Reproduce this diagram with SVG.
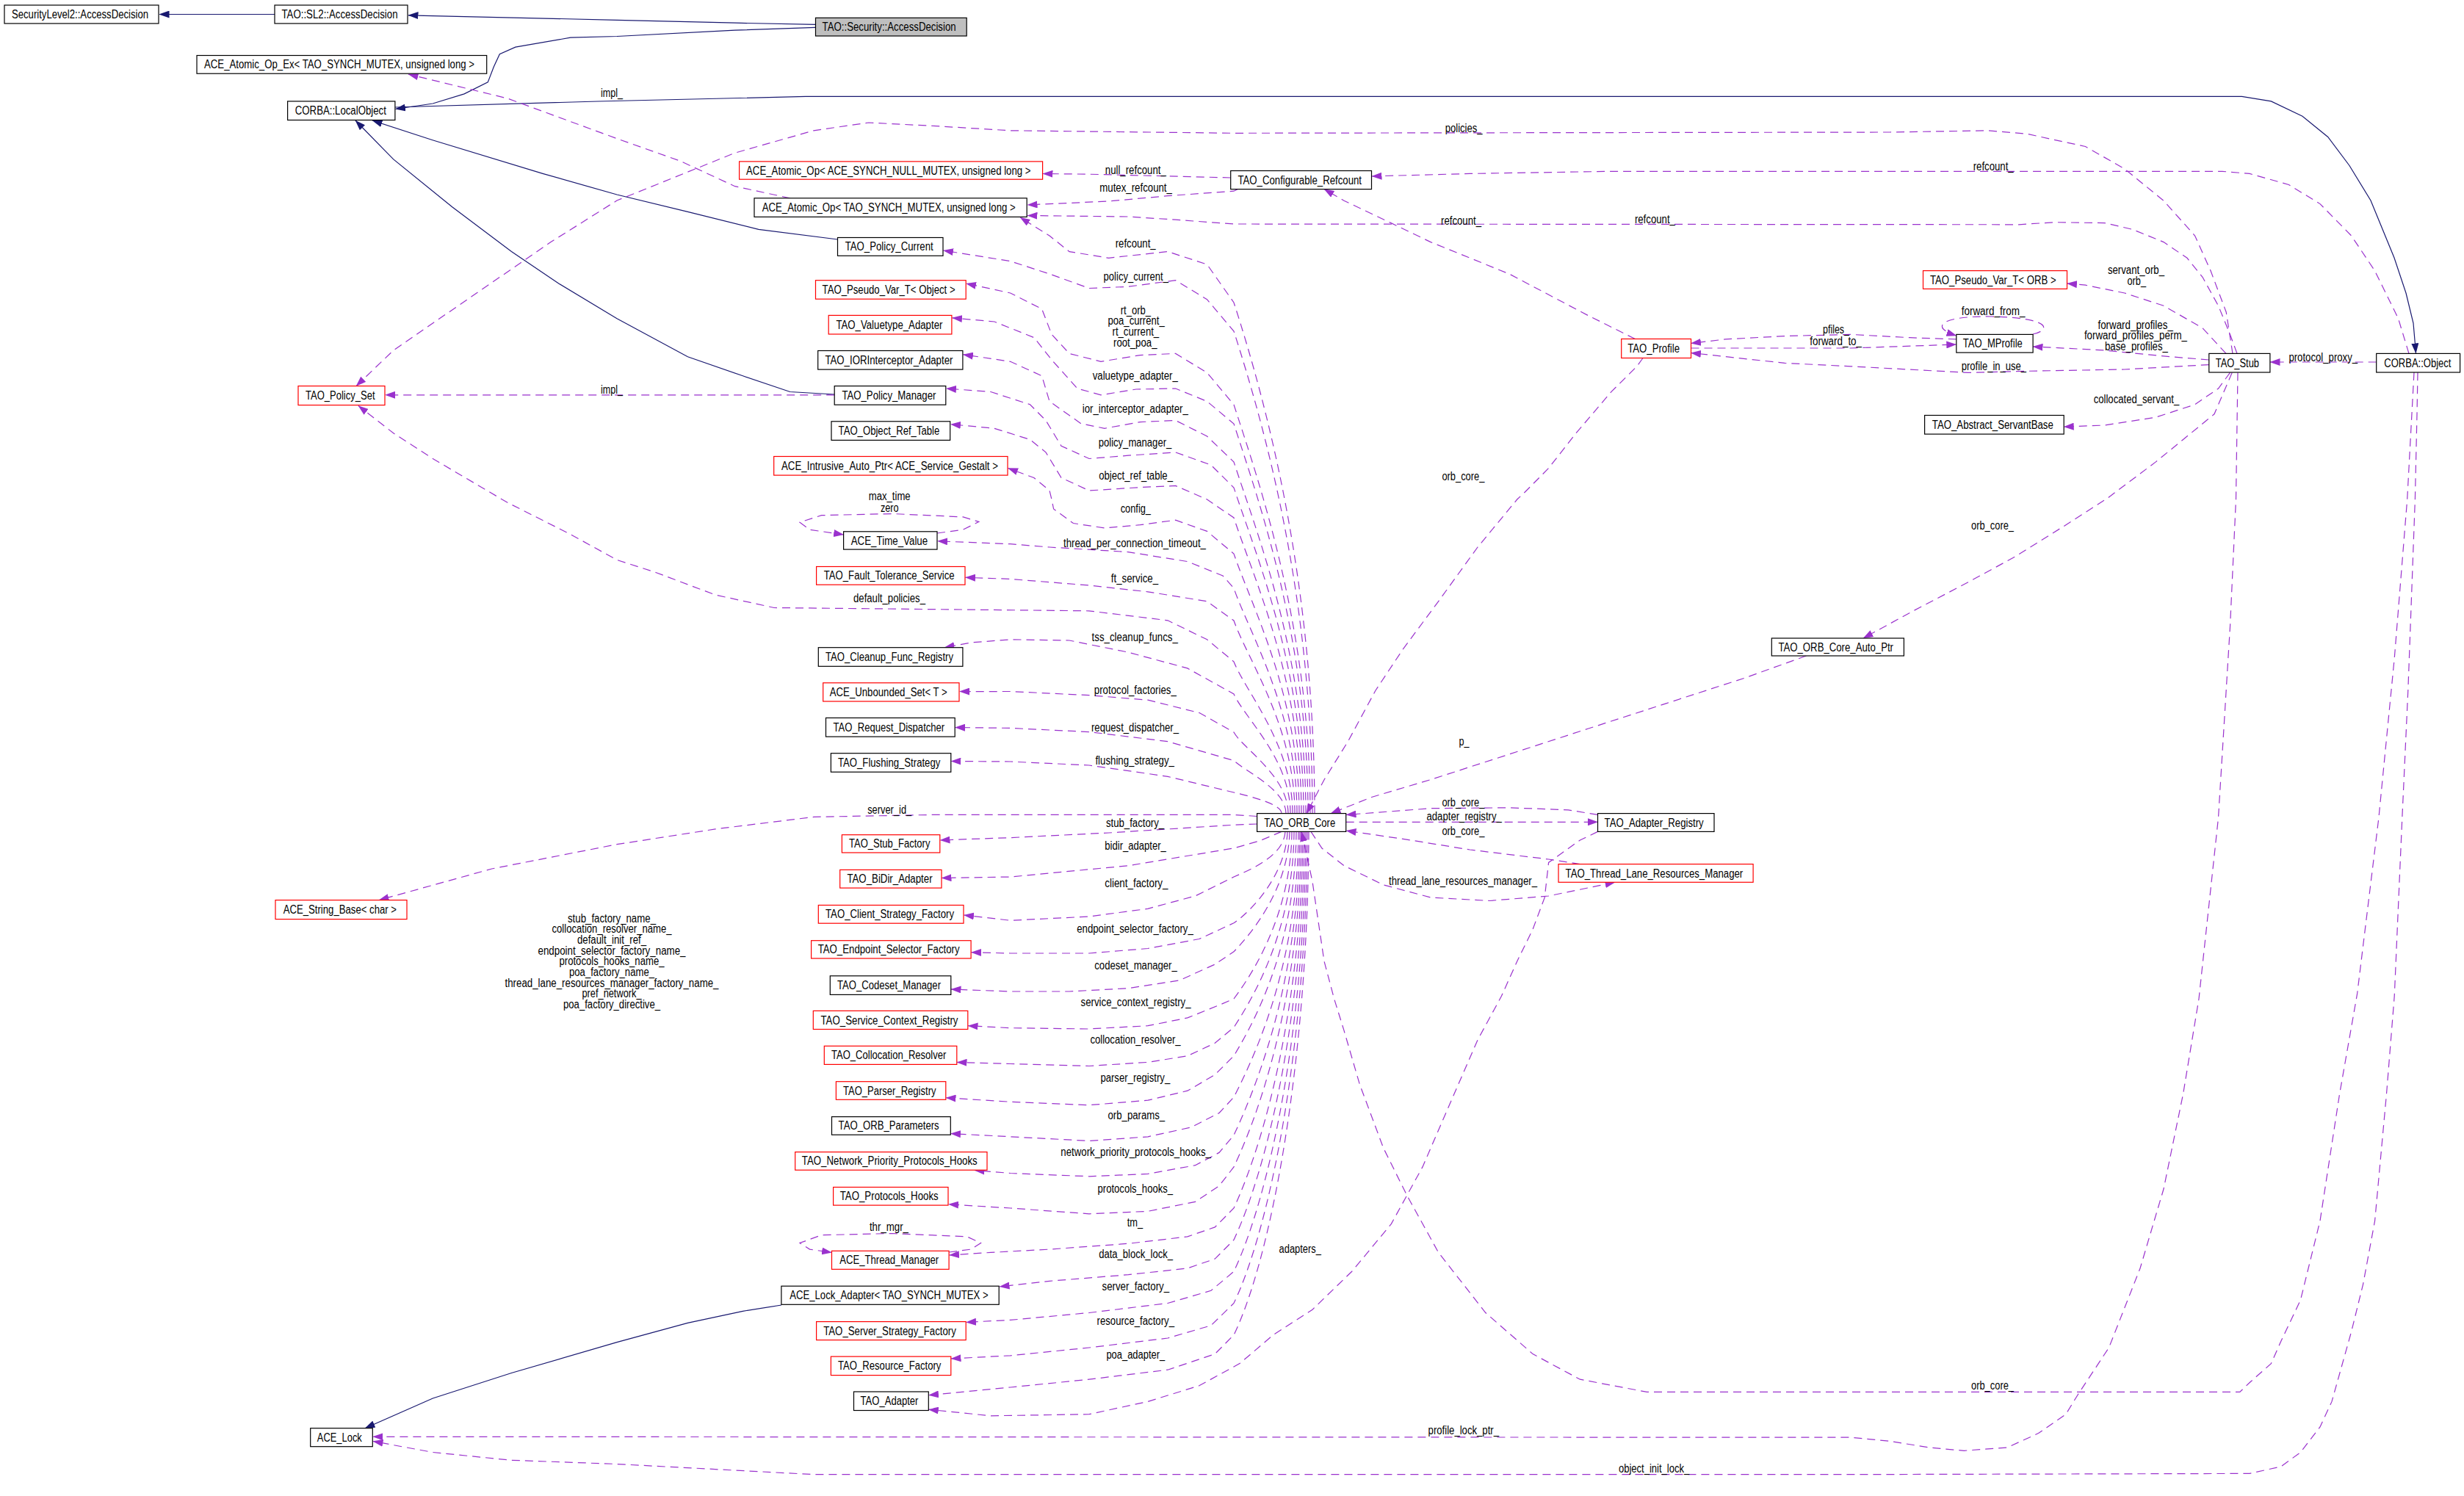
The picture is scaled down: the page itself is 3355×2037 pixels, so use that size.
<svg xmlns="http://www.w3.org/2000/svg" width="3355" height="2037" viewBox="0 0 3355 2037">
<style>
text{font-family:"Liberation Sans",Arial,sans-serif;font-size:16px;fill:#000}
.node rect{fill:#fff;stroke:#000;stroke-width:1.2}
.red rect{stroke:#ff0000}
.main rect{fill:#bfbfbf}
.e{fill:none;stroke:#9a32cd;stroke-width:1.2;stroke-dasharray:11,7;marker-end:url(#pa)}
.i{fill:none;stroke:#191970;stroke-width:1.2;marker-end:url(#ba)}
.lm{text-anchor:middle}
</style>
<defs>
<marker id="pa" markerUnits="userSpaceOnUse" markerWidth="14" markerHeight="10" viewBox="0 0 14 10" refX="13.5" refY="5" orient="auto"><path d="M0,0 L14,5 L0,10 z" fill="#9a32cd"/></marker>
<marker id="ba" markerUnits="userSpaceOnUse" markerWidth="14" markerHeight="10" viewBox="0 0 14 10" refX="13.5" refY="5" orient="auto"><path d="M0,0 L14,5 L0,10 z" fill="#191970"/></marker>
</defs>
<rect width="3355" height="2037" fill="#fff"/>
<g id="connectors">
<path class="i" d="M374,19.5 L217,19.5"/>
<path class="i" d="M1110.5,33.4 L1000.7,31.2 L840,27.3 L556,20.8"/>
<path class="i" d="M1110.5,37.3 L1000.7,41.2 L840,49.5 L776.8,51.2 L701.8,64.2 L680.3,73.7 L672.3,91.1 L664.3,111.9 L632.1,127.9 L589.3,141 L538.5,148.5"/>
<path class="i" d="M538,146 L814,138 L1097,131.4 L3052.5,131.4 L3092.4,137.9 L3135,158.3 L3169.7,186.5 L3199,225.5 L3228,273 L3244,312 L3260,351 L3276,399 L3286,440 L3289.5,481"/>
<path class="i" d="M1140.5,326 L1032.9,312.3 L936.4,288.4 L840,265 L739,236.4 L589,190.8 L507,164"/>
<path class="i" d="M1136.2,537 L1075.7,533.5 L1011.4,511.8 L936.4,485.7 L840,433.7 L760.7,386 L696.4,342.6 L616,282 L535.7,216.9 L484,164"/>
<path class="i" d="M1064,1777 L1011.4,1785.3 L936.4,1801.3 L840,1827.6 L696.4,1869.5 L589.3,1904 L497,1944.7"/>

<path class="e" d="M1075.7,269.8 L1000.7,253.7 L925.7,219 L840,188.7 L691,134 L556,101"/>
<path class="e" d="M1136.2,537.8 L524.5,537.8"/>
<path class="e" d="M1675.7,242 L1536,238.5 L1482.8,237.2 L1420,236.5"/>
<path class="e" d="M1685,257.6 L1680,260.2 L1590,266.7 L1509.6,274 L1399,279"/>
<path class="e" d="M3280,481.4 L3265.5,433.7 L3233.5,368.6 L3201.6,321 L3159,277.6 L3116.4,251.5 L3063,236.4 L3025.9,233.3 L2194,233.3 L2001.4,236.4 L1868,240"/>
<path class="e" d="M3046,481.4 L3036.5,455.4 L3020.5,416.3 L2999,377.3 L2978,351.3 L2946,329.6 L2903.4,312.3 L2866,303.6 L2797,302.7 L2749,305.8 L1680,305 L1600.7,299.2 L1536.4,295 L1399,293.5"/>
<path class="e" d="M3040,481.4 L3031.2,425 L3010,368.6 L2988.6,321 L2946,273.2 L2892.8,229.9 L2839.5,199.5 L2759.6,182.2 L2706.4,177.8 L2573.2,180 L1680,181.3 L1375.7,177.8 L1268.6,171.3 L1182.8,167 L1107.8,177.8 L1000.7,208.2 L893.6,251.5 L840,273 L750,329.6 L642.8,403.3 L535.7,477 L485,525.6"/>
<path class="e" d="M2226.4,461.5 L2162,429.4 L2055,373 L1948,329.6 L1894,303.6 L1830,273.2 L1803,257.6"/>
<path class="e" d="M2237,487.5 L2229,498.7 L2194,533.4 L2146,589.8 L2108.6,637.5 L2076.4,670 L2065.7,680 L2012,745 L1958.6,818.8 L1910.4,883.8 L1872.9,940.2 L1835.4,1009.6 L1803,1061.7 L1779,1107.6"/>
<path class="e" d="M3007.8,496.6 L2892.8,503 L2759.6,505.3 L2679.8,507.4 L2520,498.8 L2430,494.4 L2302.5,480.5"/>
<path class="e" d="M2663.8,461.9 L2600,459.7 L2520,455.4 L2430,457.6 L2349.6,461.9 L2302.5,467.5"/>
<path class="e" d="M2302.5,474 L2520,474 L2663.8,469"/>
<path class="e" d="M2768,455 C2792,450 2795,433 2712,431 C2640,430 2628,446 2664,457"/>
<path class="e" d="M3007.8,490 L2946,484.9 L2866,477 L2802,473.6 L2768,472"/>
<path class="e" d="M3031,481.4 L2999,446.7 L2946,416.3 L2892.8,399 L2839.5,388.2 L2814.5,386"/>
<path class="e" d="M3036.5,507.4 L3020.5,529 L2988.6,550.8 L2935.4,568.2 L2866,579 L2810.2,581.2"/>
<path class="e" d="M3235.7,493 L3091,493"/>
<path class="e" d="M3039.2,507.4 L3015,563.8 L2972.6,598.5 L2935.4,628.9 L2870,678 L2813,714.7 L2743.7,758 L2679.8,792.8 L2605.2,831.8 L2537,869"/>
<path class="e" d="M2459.4,893 L2376.4,922.9 L2269.3,957.6 L2162,992.3 L2055,1027 L1947.9,1061.6 L1867.5,1085.5 L1812,1107.6"/>
<path class="e" d="M1832.7,1119.3 L2175.5,1119.3"/>
<path class="e" d="M2175.5,1109.4 L2135.4,1102.8 L2055,1099.8 L1947.9,1100.7 L1833,1109.5"/>
<path class="e" d="M2151.4,1176.6 L2108.6,1170 L2001.4,1157 L1921,1144 L1833,1131"/>
<path class="e" d="M1785,1132.4 L1800,1155 L1830,1178.7 L1883.6,1204.8 L1947.9,1222 L2028.2,1226.5 L2108.6,1220 L2199,1201.3"/>
<path class="e" d="M2175.5,1132.4 L2151.4,1144 L2108.6,1174.4 L2103.2,1222.1 L2087,1265.5 L2065.7,1308.9 L2044.3,1356.6 L2012,1416 L1980,1489.5 L1937,1588.9 L1894.3,1666.6 L1840.7,1731.3 L1787,1783.2 L1733.6,1817.7 L1688,1856.6 L1680,1861 L1632.8,1886.8 L1563,1908.4 L1483,1925.7 L1349,1927.8 L1264.3,1919.2"/>
<path class="e" d="M3287,507 L3277.7,680 L3260.2,896.8 L3238.9,1113.7 L3209.6,1353.2 L3185.6,1489.5 L3159,1662.3 L3132.4,1770.2 L3105.8,1826.3 L3092.4,1856.6 L3063.2,1882.5 L3049.8,1895.4 L2242.5,1895.4 L2151.4,1878.2 L2087,1843.6 L2022.8,1787.5 L1958.6,1705.4 L1915.7,1627.7 L1883.6,1563 L1851.4,1476.6 L1830,1403.2 L1816.6,1360 L1803,1308.9 L1787,1200.4 L1775,1145 L1772,1132.4"/>
<path class="e" d="M3292,507.3 L3291,563.8 L3288.4,680 L3278.8,940.2 L3270.8,1113.7 L3260.2,1356.6 L3249.5,1489.5 L3233.6,1662.3 L3217.6,1748.6 L3201.6,1813.4 L3175,1908.4 L3159,1942.9 L3132.4,1977.5 L3105.8,1996.9 L3063.2,2006.4 L2520,2007.7 L1107.8,2007.7 L840,1993.5 L696.4,1988.3 L589.3,1977.5 L508,1962.5"/>
<path class="e" d="M3047,507.4 L3044.5,680 L3036.5,853.5 L3020.5,1113.7 L2994,1360 L2972.6,1489.5 L2946,1619 L2914,1727 L2871.5,1835 L2828.8,1899.7 L2812.9,1925.7 L2775.6,1951.6 L2733,1971 L2674.4,1975.3 L2626.5,1971 L2573.2,1962.3 L2520,1957.2 L508,1956.3"/>
<path class="e" d="M1711.6,1111.5 L1680,1109.4 L1268.6,1109.4 L1108,1112.4 L974,1128.9 L840,1149.7 L669.6,1183 L516,1225.6"/>
<path class="e" d="M1711.6,1122 L1680,1123.2 L1509.6,1134 L1375.7,1140.6 L1280,1144"/>
<path class="e" d="M1745,1132.4 L1715,1145 L1680,1154.9 L1536.4,1178.7 L1375.7,1194 L1282,1195.5"/>

<path class="e" d="M1790,1107.6 C1790,794 1725,551 1680,412 L1643.5,360 L1590,342.6 L1509.6,351.3 L1456,342.6 L1429,321 L1389,296"/>
<path class="e" d="M1787,1107.6 C1787,812 1722,582 1680,451 L1643.5,407.7 L1600.7,381.7 L1536.4,390.3 L1483,392.5 L1429,373 L1375.7,355.6 L1284.5,341"/>
<path class="e" d="M1784,1107.6 C1784,857 1716,662 1680,551 L1643.5,507.4 L1600.7,481.4 L1552.5,483.6 L1499,492.3 L1456,481.4 L1432,455.4 L1418.6,420.7 L1375.7,399 L1315.5,386"/>
<path class="e" d="M1781,1107.6 C1781,869 1714,683 1680,577 L1643.5,546.5 L1600.7,529 L1547,530 L1499,537.8 L1467,529 L1432,490 L1408,459.7 L1354,438 L1296.5,432.8"/>
<path class="e" d="M1778,1107.6 C1778,892 1711,725 1680,629 L1643.5,594 L1600.7,572.5 L1552.5,574.6 L1504,583.3 L1472,576.8 L1429,546.5 L1418.6,511.8 L1375.7,492.3 L1311.5,482.7"/>
<path class="e" d="M1775,1107.6 C1775,908 1709,753 1680,664 L1649,633.2 L1600.7,615.9 L1536.4,620.2 L1483,624.5 L1445,607.2 L1424,572.5 L1402.5,550.8 L1349,533.5 L1288.5,529"/>
<path class="e" d="M1772,1107.6 C1772,926 1706,785 1680,705 L1643.5,680 L1600.7,661.4 L1552.5,663.6 L1483,668 L1445,650.5 L1424,615.9 L1402.5,598.5 L1354,583.3 L1294.5,577.7"/>
<path class="e" d="M1769,1107.6 C1769,948 1704,825 1680,754 L1643.5,723.4 L1600.7,708.2 L1552.5,714.7 L1504.3,719 L1461.4,712.5 L1434.6,693 L1432,680 L1429,667.9 L1407.8,650.5 L1372.5,637.5"/>
<path class="e" d="M1766,1107.6 C1766,969 1701,862 1680,801 L1665,784 L1617,764.6 L1536,751.6 L1429,745 L1375.7,740.7 L1276.5,736.8"/>
<path class="e" d="M1763,1107.6 C1763,989 1698,897 1680,845 L1643.5,818.8 L1563,805.8 L1482.8,797 L1375.7,788.4 L1314.5,786.3"/>
<path class="e" d="M1760,1107.6 C1760,1014 1696,942 1680,901 L1643.5,870.8 L1590,844.8 L1482.8,831.8 L1268.6,829.6 L1054,827.5 L974,810 L893.6,779.7 L840,762.4 L777,727.7 L691,684.3 L589.3,624.5 L535.7,589.8 L488,552.5"/>
<path class="e" d="M1757,1107.6 C1757,1033 1694,977 1680,945 L1616.8,909.9 L1536.4,888.2 L1456,872 L1375.7,870.8 L1322,875 L1286,881.7"/>
<path class="e" d="M1754,1107.6 C1754,1057 1692,1019 1680,997 L1633,970.6 L1563,953.2 L1483,946.7 L1375.7,941.5 L1306.5,941.6"/>
<path class="e" d="M1751,1107.6 C1751,1075 1695,1050 1680,1035.6 L1590,1009.6 L1483,996.6 L1375.7,991.4 L1300.5,990.5"/>
<path class="e" d="M1745,1107.6 C1745,1095 1705,1085 1680,1079 L1590,1057.3 L1483,1042 L1375.7,1037 L1295,1036.5"/>

<path class="e" d="M1750,1132.4 C1748,1165 1705,1183 1680,1194 L1627.5,1220 L1563,1237.3 L1483,1248 L1375.7,1253.3 L1312.5,1246"/>
<path class="e" d="M1753,1132.4 C1751,1190 1705,1240 1680,1256.8 L1633,1278.5 L1563,1291.5 L1483,1298 L1375.7,1298 L1322.5,1296.7"/>
<path class="e" d="M1756,1132.4 C1754,1210 1705,1270 1680,1295.8 L1654,1313.2 L1606,1334.9 L1536.4,1345.7 L1456,1350 L1375.7,1350 L1295,1347"/>
<path class="e" d="M1759,1132.4 C1758,1240 1710,1320 1680,1360 L1660,1368.6 L1617,1385.9 L1563,1396.7 L1483,1401 L1375.7,1399.7 L1318,1396.7"/>
<path class="e" d="M1762,1132.4 C1761,1260 1712,1350 1680,1398.9 L1654,1420.5 L1617,1437.7 L1563,1446.4 L1483,1451.5 L1375.7,1448.5 L1303,1446.4"/>
<path class="e" d="M1765,1132.4 C1764,1280 1715,1380 1680,1437.7 L1654,1463.6 L1617,1485.2 L1563,1498.2 L1483,1504.7 L1375.7,1500.3 L1288,1494.7"/>
<path class="e" d="M1768,1132.4 C1767,1300 1718,1420 1680,1493.9 L1660,1515.5 L1622,1534.9 L1563,1547.8 L1483,1553.4 L1375.7,1547.8 L1294.5,1543.5"/>
<path class="e" d="M1770,1132.4 C1769,1320 1720,1460 1680,1545.7 L1660,1569.4 L1627.5,1586.7 L1563,1598.4 L1483,1601.8 L1375.7,1597.5 L1327,1593.5"/>
<path class="e" d="M1772,1132.4 C1771,1340 1722,1500 1680,1588.9 L1660,1614.8 L1627.5,1636.4 L1563,1649.3 L1483,1652.8 L1375.7,1645 L1291.5,1639.8"/>
<path class="e" d="M1774,1132.4 C1773,1360 1724,1550 1680,1645 L1654.3,1670.9 L1616.8,1683.9 L1536.4,1693.3 L1429.2,1701.1 L1348.9,1705.4 L1292.5,1709"/>
<path class="e" d="M1776,1132.4 C1775,1380 1726,1590 1680,1688.2 L1654.3,1714.1 L1616.8,1727 L1536.4,1735.7 L1429.2,1744.3 L1361,1752"/>
<path class="e" d="M1778,1132.4 C1777,1400 1728,1630 1680,1731.3 L1649,1757.3 L1590,1774.5 L1483,1787.5 L1375.7,1797.4 L1315.5,1800.4"/>
<path class="e" d="M1780,1132.4 C1779,1420 1730,1670 1680,1774.5 L1649,1804.8 L1590,1822 L1483,1835 L1375.7,1845.8 L1295,1850"/>
<path class="e" d="M1782,1132.4 C1781,1440 1732,1710 1680,1817.7 L1654.3,1843.6 L1590,1865.2 L1483,1878.2 L1375.7,1889 L1264.5,1899.7"/>

<path class="e" d="M1276,726 L1311.4,721.2 L1332.8,710.4 L1311.4,703.9 L1215,699.5 L1118.6,701.7 L1089,711.2 L1102.5,721.2 L1148.6,728"/>
<path class="e" d="M1292.1,1705 L1322,1701.1 L1335.5,1692.5 L1316.8,1683.9 L1215,1679.5 L1118.6,1681.7 L1089,1692.5 L1102.5,1701.1 L1132.5,1705.4"/>

<g id="edge-labels">
<text x="818" y="132" textLength="30" lengthAdjust="spacingAndGlyphs">impl_</text>
<text x="818" y="536" textLength="30" lengthAdjust="spacingAndGlyphs">impl_</text>
<text x="1504.8" y="237" textLength="83" lengthAdjust="spacingAndGlyphs">null_refcount_</text>
<text x="1497.3" y="261" textLength="98.6" lengthAdjust="spacingAndGlyphs">mutex_refcount_</text>
<text x="1518.7" y="337" textLength="55" lengthAdjust="spacingAndGlyphs">refcount_</text>
<text x="1502.6" y="382" textLength="88.4" lengthAdjust="spacingAndGlyphs">policy_current_</text>
<text x="1525.7" y="428" textLength="41.3" lengthAdjust="spacingAndGlyphs">rt_orb_</text>
<text x="1508.5" y="442" textLength="77.2" lengthAdjust="spacingAndGlyphs">poa_current_</text>
<text x="1514.5" y="457" textLength="63.7" lengthAdjust="spacingAndGlyphs">rt_current_</text>
<text x="1516" y="472" textLength="59.5" lengthAdjust="spacingAndGlyphs">root_poa_</text>
<text x="1487.7" y="517" textLength="116.2" lengthAdjust="spacingAndGlyphs">valuetype_adapter_</text>
<text x="1473.7" y="562" textLength="144.1" lengthAdjust="spacingAndGlyphs">ior_interceptor_adapter_</text>
<text x="1495.7" y="608" textLength="99.6" lengthAdjust="spacingAndGlyphs">policy_manager_</text>
<text x="1496.2" y="653" textLength="100.8" lengthAdjust="spacingAndGlyphs">object_ref_table_</text>
<text x="1182.8" y="681" textLength="56.8" lengthAdjust="spacingAndGlyphs">max_time</text>
<text x="1198.9" y="697" textLength="24.7" lengthAdjust="spacingAndGlyphs">zero</text>
<text x="1525.7" y="698" textLength="41.3" lengthAdjust="spacingAndGlyphs">config_</text>
<text x="1448" y="745" textLength="194" lengthAdjust="spacingAndGlyphs">thread_per_connection_timeout_</text>
<text x="1512.8" y="793" textLength="64.3" lengthAdjust="spacingAndGlyphs">ft_service_</text>
<text x="1162" y="820" textLength="98" lengthAdjust="spacingAndGlyphs">default_policies_</text>
<text x="1486.6" y="873" textLength="117.3" lengthAdjust="spacingAndGlyphs">tss_cleanup_funcs_</text>
<text x="1489.8" y="945" textLength="112" lengthAdjust="spacingAndGlyphs">protocol_factories_</text>
<text x="1486" y="996" textLength="119" lengthAdjust="spacingAndGlyphs">request_dispatcher_</text>
<text x="1491.4" y="1041" textLength="107.6" lengthAdjust="spacingAndGlyphs">flushing_strategy_</text>
<text x="1181.2" y="1108" textLength="60" lengthAdjust="spacingAndGlyphs">server_id_</text>
<text x="1505.9" y="1126" textLength="79.3" lengthAdjust="spacingAndGlyphs">stub_factory_</text>
<text x="1504.3" y="1157" textLength="83.5" lengthAdjust="spacingAndGlyphs">bidir_adapter_</text>
<text x="1504.3" y="1208" textLength="86.2" lengthAdjust="spacingAndGlyphs">client_factory_</text>
<text x="1466.2" y="1270" textLength="158.6" lengthAdjust="spacingAndGlyphs">endpoint_selector_factory_</text>
<text x="1490.3" y="1320" textLength="112.5" lengthAdjust="spacingAndGlyphs">codeset_manager_</text>
<text x="1471.6" y="1370" textLength="150" lengthAdjust="spacingAndGlyphs">service_context_registry_</text>
<text x="1484.4" y="1421" textLength="123.2" lengthAdjust="spacingAndGlyphs">collocation_resolver_</text>
<text x="1498.4" y="1473" textLength="94.8" lengthAdjust="spacingAndGlyphs">parser_registry_</text>
<text x="1508.5" y="1524" textLength="77.7" lengthAdjust="spacingAndGlyphs">orb_params_</text>
<text x="1444.3" y="1574" textLength="204.6" lengthAdjust="spacingAndGlyphs">network_priority_protocols_hooks_</text>
<text x="1494.6" y="1624" textLength="102.4" lengthAdjust="spacingAndGlyphs">protocols_hooks_</text>
<text x="1183.9" y="1676" textLength="53.1" lengthAdjust="spacingAndGlyphs">thr_mgr_</text>
<text x="1534.8" y="1670" textLength="21.4" lengthAdjust="spacingAndGlyphs">tm_</text>
<text x="1496.2" y="1713" textLength="100.8" lengthAdjust="spacingAndGlyphs">data_block_lock_</text>
<text x="1500.5" y="1757" textLength="91.6" lengthAdjust="spacingAndGlyphs">server_factory_</text>
<text x="1493.5" y="1804" textLength="105.5" lengthAdjust="spacingAndGlyphs">resource_factory_</text>
<text x="1506.4" y="1850" textLength="79.8" lengthAdjust="spacingAndGlyphs">poa_adapter_</text>
<text class="lm" x="833" y="1256" textLength="120" lengthAdjust="spacingAndGlyphs">stub_factory_name_</text>
<text class="lm" x="833" y="1270" textLength="163" lengthAdjust="spacingAndGlyphs">collocation_resolver_name_</text>
<text class="lm" x="833" y="1285" textLength="94" lengthAdjust="spacingAndGlyphs">default_init_ref_</text>
<text class="lm" x="833" y="1300" textLength="201" lengthAdjust="spacingAndGlyphs">endpoint_selector_factory_name_</text>
<text class="lm" x="833" y="1314" textLength="143" lengthAdjust="spacingAndGlyphs">protocols_hooks_name_</text>
<text class="lm" x="833" y="1329" textLength="116" lengthAdjust="spacingAndGlyphs">poa_factory_name_</text>
<text class="lm" x="833" y="1344" textLength="291" lengthAdjust="spacingAndGlyphs">thread_lane_resources_manager_factory_name_</text>
<text class="lm" x="833" y="1358" textLength="81" lengthAdjust="spacingAndGlyphs">pref_network_</text>
<text class="lm" x="833" y="1373" textLength="132" lengthAdjust="spacingAndGlyphs">poa_factory_directive_</text>
<text x="1986.4" y="1015" textLength="14" lengthAdjust="spacingAndGlyphs">p_</text>
<text x="1963.4" y="1098" textLength="58" lengthAdjust="spacingAndGlyphs">orb_core_</text>
<text x="1942.5" y="1117" textLength="102.3" lengthAdjust="spacingAndGlyphs">adapter_registry_</text>
<text x="1963.4" y="1137" textLength="58" lengthAdjust="spacingAndGlyphs">orb_core_</text>
<text x="1891" y="1205" textLength="202" lengthAdjust="spacingAndGlyphs">thread_lane_resources_manager_</text>
<text x="1967.7" y="180" textLength="50.9" lengthAdjust="spacingAndGlyphs">policies_</text>
<text x="1962" y="306" textLength="55" lengthAdjust="spacingAndGlyphs">refcount_</text>
<text x="2225.9" y="304" textLength="55" lengthAdjust="spacingAndGlyphs">refcount_</text>
<text x="1963.4" y="654" textLength="58" lengthAdjust="spacingAndGlyphs">orb_core_</text>
<text x="2482" y="454" textLength="36" lengthAdjust="spacingAndGlyphs">pfiles_</text>
<text x="2464.3" y="470" textLength="70.7" lengthAdjust="spacingAndGlyphs">forward_to_</text>
<text x="2686.7" y="232" textLength="55" lengthAdjust="spacingAndGlyphs">refcount_</text>
<text x="2869.9" y="373" textLength="77.1" lengthAdjust="spacingAndGlyphs">servant_orb_</text>
<text x="2896.5" y="388" textLength="25.5" lengthAdjust="spacingAndGlyphs">orb_</text>
<text x="2670.7" y="429" textLength="86.8" lengthAdjust="spacingAndGlyphs">forward_from_</text>
<text x="2856.5" y="448" textLength="102.3" lengthAdjust="spacingAndGlyphs">forward_profiles_</text>
<text x="2837.9" y="462" textLength="140" lengthAdjust="spacingAndGlyphs">forward_profiles_perm_</text>
<text x="2866" y="477" textLength="85.9" lengthAdjust="spacingAndGlyphs">base_profiles_</text>
<text x="2670.7" y="504" textLength="88.4" lengthAdjust="spacingAndGlyphs">profile_in_use_</text>
<text x="3116.4" y="492" textLength="93.7" lengthAdjust="spacingAndGlyphs">protocol_proxy_</text>
<text x="2850.7" y="549" textLength="116.6" lengthAdjust="spacingAndGlyphs">collocated_servant_</text>
<text x="2684" y="721" textLength="58" lengthAdjust="spacingAndGlyphs">orb_core_</text>
<text x="1741.6" y="1706" textLength="57.3" lengthAdjust="spacingAndGlyphs">adapters_</text>
<text x="1944.6" y="1953" textLength="96.4" lengthAdjust="spacingAndGlyphs">profile_lock_ptr_</text>
<text x="2203.9" y="2005" textLength="96.4" lengthAdjust="spacingAndGlyphs">object_init_lock_</text>
<text x="2684" y="1892" textLength="58" lengthAdjust="spacingAndGlyphs">orb_core_</text>
</g>
</g>

<g id="nodes">
<g id="n_sl2_ad" class="node"><rect x="6" y="7" width="210" height="25"/><text x="16" y="25" textLength="186" lengthAdjust="spacingAndGlyphs">SecurityLevel2::AccessDecision</text></g>
<g id="n_tao_sl2_ad" class="node"><rect x="374" y="7" width="181" height="25"/><text x="383.5" y="25" textLength="158" lengthAdjust="spacingAndGlyphs">TAO::SL2::AccessDecision</text></g>
<g id="n_tao_sec_ad" class="node main"><rect x="1110.5" y="24.3" width="205.7" height="24.7"/><text x="1119.6" y="42.2" textLength="182" lengthAdjust="spacingAndGlyphs">TAO::Security::AccessDecision</text></g>
<g id="n_atomic_op_ex" class="node"><rect x="268" y="75.5" width="394.7" height="24.7"/><text x="278" y="93.4" textLength="368" lengthAdjust="spacingAndGlyphs">ACE_Atomic_Op_Ex&lt; TAO_SYNCH_MUTEX, unsigned long &gt;</text></g>
<g id="n_local_object" class="node"><rect x="391.6" y="137.9" width="146.3" height="25.6"/><text x="401.8" y="156.2" textLength="124" lengthAdjust="spacingAndGlyphs">CORBA::LocalObject</text></g>
<g id="n_policy_set" class="node red"><rect x="406" y="525.6" width="118" height="26"/><text x="416" y="544.1" textLength="94.5" lengthAdjust="spacingAndGlyphs">TAO_Policy_Set</text></g>
<g id="n_atomic_null" class="node red"><rect x="1006.6" y="219.9" width="413" height="24.3"/><text x="1016" y="237.6" textLength="387.6" lengthAdjust="spacingAndGlyphs">ACE_Atomic_Op&lt; ACE_SYNCH_NULL_MUTEX, unsigned long &gt;</text></g>
<g id="n_atomic_mutex" class="node"><rect x="1027" y="269.8" width="371.2" height="25.6"/><text x="1037.7" y="288.1" textLength="345" lengthAdjust="spacingAndGlyphs">ACE_Atomic_Op&lt; TAO_SYNCH_MUTEX, unsigned long &gt;</text></g>
<g id="n_policy_current" class="node"><rect x="1140.5" y="323.5" width="143.5" height="24.8"/><text x="1150.7" y="341.4" textLength="120" lengthAdjust="spacingAndGlyphs">TAO_Policy_Current</text></g>
<g id="n_pseudo_obj" class="node red"><rect x="1110.5" y="381.7" width="204.7" height="25.5"/><text x="1119.6" y="400" textLength="181" lengthAdjust="spacingAndGlyphs">TAO_Pseudo_Var_T&lt; Object &gt;</text></g>
<g id="n_valuetype" class="node red"><rect x="1128.2" y="429.4" width="167.7" height="25.6"/><text x="1138.4" y="447.7" textLength="145" lengthAdjust="spacingAndGlyphs">TAO_Valuetype_Adapter</text></g>
<g id="n_ior" class="node"><rect x="1113.7" y="477.5" width="197.2" height="25.6"/><text x="1123.4" y="495.8" textLength="174" lengthAdjust="spacingAndGlyphs">TAO_IORInterceptor_Adapter</text></g>
<g id="n_policy_manager" class="node"><rect x="1136.2" y="525.6" width="151.6" height="25.6"/><text x="1146.4" y="543.9" textLength="128" lengthAdjust="spacingAndGlyphs">TAO_Policy_Manager</text></g>
<g id="n_obj_ref_table" class="node"><rect x="1132" y="573.8" width="161.7" height="25.6"/><text x="1141.6" y="592.1" textLength="137.7" lengthAdjust="spacingAndGlyphs">TAO_Object_Ref_Table</text></g>
<g id="n_intrusive" class="node red"><rect x="1053.7" y="621.5" width="318.3" height="25.6"/><text x="1064" y="639.8" textLength="295" lengthAdjust="spacingAndGlyphs">ACE_Intrusive_Auto_Ptr&lt; ACE_Service_Gestalt &gt;</text></g>
<g id="n_time_value" class="node"><rect x="1148.6" y="723.8" width="127.4" height="24.3"/><text x="1158.7" y="741.5" textLength="104.5" lengthAdjust="spacingAndGlyphs">ACE_Time_Value</text></g>
<g id="n_ft" class="node red"><rect x="1111.6" y="771.5" width="202.4" height="24.7"/><text x="1121.8" y="789.4" textLength="177.8" lengthAdjust="spacingAndGlyphs">TAO_Fault_Tolerance_Service</text></g>
<g id="n_cleanup" class="node"><rect x="1114.3" y="881.7" width="196.6" height="25.6"/><text x="1124" y="900" textLength="174" lengthAdjust="spacingAndGlyphs">TAO_Cleanup_Func_Registry</text></g>
<g id="n_unbounded" class="node red"><rect x="1120.7" y="929.8" width="185.3" height="25.2"/><text x="1129.8" y="947.9" textLength="160" lengthAdjust="spacingAndGlyphs">ACE_Unbounded_Set&lt; T &gt;</text></g>
<g id="n_req_disp" class="node"><rect x="1124.5" y="977.5" width="175.7" height="25.6"/><text x="1134.6" y="995.8" textLength="151.6" lengthAdjust="spacingAndGlyphs">TAO_Request_Dispatcher</text></g>
<g id="n_flushing" class="node"><rect x="1131.4" y="1025.7" width="163.4" height="25.5"/><text x="1141" y="1044" textLength="139.3" lengthAdjust="spacingAndGlyphs">TAO_Flushing_Strategy</text></g>
<g id="n_stub_factory" class="node red"><rect x="1146.4" y="1136.7" width="133.4" height="24.3"/><text x="1156" y="1154.4" textLength="110.4" lengthAdjust="spacingAndGlyphs">TAO_Stub_Factory</text></g>
<g id="n_bidir" class="node red"><rect x="1143.7" y="1184.4" width="138.3" height="24.7"/><text x="1153.4" y="1202.3" textLength="116.2" lengthAdjust="spacingAndGlyphs">TAO_BiDir_Adapter</text></g>
<g id="n_client_sf" class="node red"><rect x="1114.3" y="1232.5" width="197.7" height="24.7"/><text x="1124" y="1250.4" textLength="175" lengthAdjust="spacingAndGlyphs">TAO_Client_Strategy_Factory</text></g>
<g id="n_endpoint_sf" class="node red"><rect x="1104.6" y="1280.7" width="217.5" height="24.3"/><text x="1113.7" y="1298.4" textLength="192.9" lengthAdjust="spacingAndGlyphs">TAO_Endpoint_Selector_Factory</text></g>
<g id="n_codeset" class="node"><rect x="1130.3" y="1328.8" width="164.5" height="25.6"/><text x="1140" y="1347.1" textLength="141" lengthAdjust="spacingAndGlyphs">TAO_Codeset_Manager</text></g>
<g id="n_svc_ctx" class="node red"><rect x="1107.3" y="1376.4" width="210.5" height="25.1"/><text x="1117.5" y="1394.5" textLength="187" lengthAdjust="spacingAndGlyphs">TAO_Service_Context_Registry</text></g>
<g id="n_colloc" class="node red"><rect x="1122.3" y="1424.3" width="180.5" height="25.1"/><text x="1132" y="1442.4" textLength="156.4" lengthAdjust="spacingAndGlyphs">TAO_Collocation_Resolver</text></g>
<g id="n_parser" class="node red"><rect x="1138.4" y="1472.7" width="149.4" height="24.6"/><text x="1148" y="1490.5" textLength="126.5" lengthAdjust="spacingAndGlyphs">TAO_Parser_Registry</text></g>
<g id="n_orb_params" class="node"><rect x="1132.5" y="1520.6" width="161.8" height="24.6"/><text x="1141.6" y="1538.4" textLength="137.1" lengthAdjust="spacingAndGlyphs">TAO_ORB_Parameters</text></g>
<g id="n_netprio" class="node red"><rect x="1082.7" y="1568.6" width="261.3" height="24.6"/><text x="1091.8" y="1586.4" textLength="238.9" lengthAdjust="spacingAndGlyphs">TAO_Network_Priority_Protocols_Hooks</text></g>
<g id="n_proto_hooks" class="node red"><rect x="1134.6" y="1616.5" width="156.4" height="24.6"/><text x="1143.7" y="1634.3" textLength="134" lengthAdjust="spacingAndGlyphs">TAO_Protocols_Hooks</text></g>
<g id="n_thread_mgr" class="node red"><rect x="1132.5" y="1703.3" width="159.6" height="25"/><text x="1143.2" y="1721.3" textLength="135" lengthAdjust="spacingAndGlyphs">ACE_Thread_Manager</text></g>
<g id="n_lock_adapter" class="node"><rect x="1063.9" y="1751.2" width="296.3" height="25.1"/><text x="1075.2" y="1769.3" textLength="270.5" lengthAdjust="spacingAndGlyphs">ACE_Lock_Adapter&lt; TAO_SYNCH_MUTEX &gt;</text></g>
<g id="n_server_sf" class="node red"><rect x="1111.6" y="1799.6" width="203.6" height="25"/><text x="1121.2" y="1817.6" textLength="180.6" lengthAdjust="spacingAndGlyphs">TAO_Server_Strategy_Factory</text></g>
<g id="n_resource_f" class="node red"><rect x="1131.4" y="1847.1" width="163.4" height="25.5"/><text x="1141" y="1865.4" textLength="140.4" lengthAdjust="spacingAndGlyphs">TAO_Resource_Factory</text></g>
<g id="n_adapter" class="node"><rect x="1162.5" y="1895" width="101.8" height="25.5"/><text x="1171.6" y="1913.3" textLength="78.8" lengthAdjust="spacingAndGlyphs">TAO_Adapter</text></g>
<g id="n_ace_lock" class="node"><rect x="422.7" y="1944.7" width="84.6" height="25"/><text x="431.8" y="1962.7" textLength="61" lengthAdjust="spacingAndGlyphs">ACE_Lock</text></g>
<g id="n_string_base" class="node red"><rect x="375" y="1225.6" width="179" height="26"/><text x="385.7" y="1244.1" textLength="154.3" lengthAdjust="spacingAndGlyphs">ACE_String_Base&lt; char &gt;</text></g>
<g id="n_orb_core" class="node"><rect x="1711.6" y="1107.6" width="121.1" height="24.8"/><text x="1721.2" y="1125.5" textLength="97" lengthAdjust="spacingAndGlyphs">TAO_ORB_Core</text></g>
<g id="n_adapter_reg" class="node"><rect x="2175.5" y="1107.6" width="158.5" height="24.8"/><text x="2184.6" y="1125.5" textLength="135" lengthAdjust="spacingAndGlyphs">TAO_Adapter_Registry</text></g>
<g id="n_tlrm" class="node red"><rect x="2122" y="1176.6" width="265.1" height="24.7"/><text x="2131.6" y="1194.5" textLength="241.6" lengthAdjust="spacingAndGlyphs">TAO_Thread_Lane_Resources_Manager</text></g>
<g id="n_orb_core_ptr" class="node"><rect x="2412.3" y="869" width="180.1" height="24"/><text x="2421.4" y="886.5" textLength="156.6" lengthAdjust="spacingAndGlyphs">TAO_ORB_Core_Auto_Ptr</text></g>
<g id="n_conf_refcount" class="node"><rect x="1675.7" y="232.5" width="191.8" height="25.1"/><text x="1685.4" y="250.6" textLength="168.6" lengthAdjust="spacingAndGlyphs">TAO_Configurable_Refcount</text></g>
<g id="n_profile" class="node red"><rect x="2207.7" y="461.5" width="94.8" height="26"/><text x="2216.2" y="480" textLength="70.8" lengthAdjust="spacingAndGlyphs">TAO_Profile</text></g>
<g id="n_pseudo_orb" class="node red"><rect x="2618.5" y="368.6" width="196" height="24.8"/><text x="2628" y="386.5" textLength="171.6" lengthAdjust="spacingAndGlyphs">TAO_Pseudo_Var_T&lt; ORB &gt;</text></g>
<g id="n_mprofile" class="node"><rect x="2663.8" y="455.4" width="104.3" height="24.7"/><text x="2672.8" y="473.3" textLength="81" lengthAdjust="spacingAndGlyphs">TAO_MProfile</text></g>
<g id="n_servantbase" class="node"><rect x="2620.6" y="565.5" width="189.6" height="25.6"/><text x="2630.8" y="583.8" textLength="165" lengthAdjust="spacingAndGlyphs">TAO_Abstract_ServantBase</text></g>
<g id="n_stub" class="node"><rect x="3007.8" y="481.4" width="83.1" height="25.6"/><text x="3016.8" y="499.7" textLength="59.2" lengthAdjust="spacingAndGlyphs">TAO_Stub</text></g>
<g id="n_corba_object" class="node"><rect x="3235.7" y="481.4" width="113.9" height="25.6"/><text x="3246.3" y="499.7" textLength="91.1" lengthAdjust="spacingAndGlyphs">CORBA::Object</text></g>
</g>
</svg>
